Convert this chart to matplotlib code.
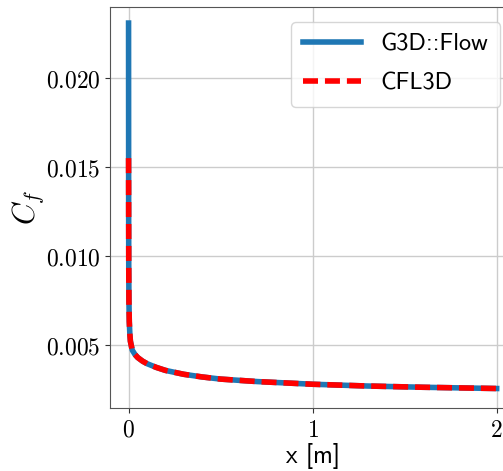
import matplotlib
matplotlib.use('Agg')
import matplotlib.pyplot as plt
from matplotlib.ticker import FixedLocator

plt.rcParams['mathtext.fontset'] = 'cm'

# Skin friction along the plate
x = [0, 0.0005, 0.001, 0.002, 0.004, 0.007, 0.01, 0.02, 0.035, 0.05, 0.076,
     0.1, 0.15, 0.2, 0.3, 0.4, 0.5, 0.7, 1.0, 1.3, 1.6, 2.0]
cf_g3d = [0.0231, 0.0125, 0.0095, 0.0075, 0.0063, 0.0056, 0.0052, 0.0047,
          0.00445, 0.00428, 0.00408, 0.00394, 0.00373, 0.00356, 0.00334,
          0.00319, 0.00307, 0.00293, 0.00278, 0.00268, 0.00261, 0.00254]
cf_cfl3d = [0.0155] + cf_g3d[1:]
xticks = [0, 1, 2]
yticks = [0.005, 0.010, 0.015, 0.020]

fig = plt.figure(figsize=(5.03, 4.71), dpi=100)
# right edge of the axes runs just past the picture, as in the cropped original
ax = fig.add_axes([0.219, 0.134, 0.805, 0.851])

ax.plot(x, cf_g3d, color='#1f77b4', lw=4, label='G3D::Flow')
ax.plot(x, cf_cfl3d, color='red', lw=4, ls='--', dashes=(2.7, 1.25),
        label='CFL3D')

ax.set_xlim(-0.1, 2.1)
ax.set_ylim(0.00145, 0.0240)
ax.xaxis.set_major_locator(FixedLocator(xticks))
ax.yaxis.set_major_locator(FixedLocator(yticks))
ax.set_xticklabels([r'$%d$' % t for t in xticks])
ax.set_yticklabels([r'$%.3f$' % t for t in yticks])
ax.tick_params(labelsize=17, color='#333333')
ax.grid(True, color='#cccccc', lw=1)
ax.set_axisbelow(True)
for s in ax.spines.values():
    s.set_color('#555555')

ax.set_xlabel('x [m]', fontsize=18, family='cmss10', labelpad=1)
ax.set_ylabel(r'$C_f$', fontsize=22, labelpad=0)
ax.legend(loc='upper right', prop={'family': 'cmss10', 'size': 17.5},
          handlelength=2.4, handletextpad=0.8, labelspacing=0.7,
          borderpad=0.5, borderaxespad=0.6)

fig.savefig('out.png', dpi=100)
